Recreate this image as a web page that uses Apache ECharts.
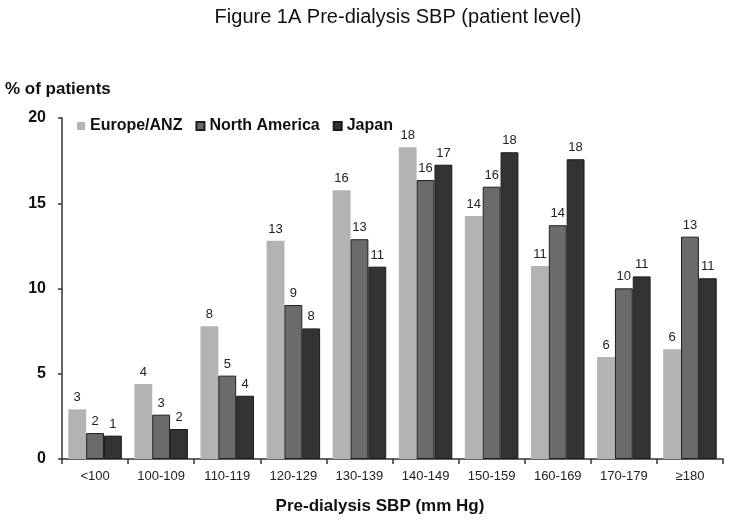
<!DOCTYPE html>
<html>
<head>
<meta charset="utf-8">
<script src="https://cdn.jsdelivr.net/npm/echarts@6/dist/echarts.min.js"></script>
<style>html,body{margin:0;padding:0;background:#fff}#c{width:729px;height:523px}</style>
</head>
<body>
<div id="c"></div>
<script>
var categories = ['<100','100-109','110-119','120-129','130-139','140-149','150-159','160-169','170-179','\u2265180'];
var europeANZ = [2.91, 4.40, 7.78, 12.80, 15.76, 18.28, 14.25, 11.32, 5.98, 6.43];
var northAmerica = [1.52, 2.60, 4.89, 9.03, 12.89, 16.36, 15.97, 13.71, 10.01, 13.04];
var japan = [1.37, 1.76, 3.71, 7.66, 11.28, 17.26, 17.99, 17.58, 10.71, 10.60];
var yTicks = [0, 5, 10, 15, 20];

var FONT = '"Liberation Sans", Arial, sans-serif';
var chart = echarts.init(document.getElementById('c'), null, {renderer: 'canvas'});

function mk(name, data, color, border) {
  return {
    name: name, type: 'bar', data: data,
    barGap: '0%', barCategoryGap: '19%',
    itemStyle: {color: color, borderColor: border || color, borderWidth: border ? 1 : 0},
    label: {show: true, position: 'top', distance: 5, fontFamily: FONT, fontSize: 13, color: '#222',
      formatter: function (p) { return Math.round(p.value); }},
    emphasis: {disabled: true}
  };
}

chart.setOption({
  animation: false,
  backgroundColor: '#fff',
  textStyle: {fontFamily: FONT},
  grid: {left: 62, right: 6, top: 118, bottom: 64, containLabel: false},
  legend: {
    left: 72, top: 113, itemWidth: 8, itemHeight: 8, itemGap: 13,
    icon: 'rect',
    textStyle: {fontFamily: FONT, fontSize: 16, fontWeight: 'bold', color: '#111'},
    data: ['Europe/ANZ', 'North America', 'Japan']
  },
  graphic: [
    {type: 'text', style: {text: 'Figure 1A Pre-dialysis SBP (patient level)', x: 398, y: 17, textAlign: 'center', textVerticalAlign: 'middle', font: '20px ' + FONT, fill: '#111'}},
    {type: 'text', style: {text: '% of patients', x: 5, y: 89, textAlign: 'left', textVerticalAlign: 'middle', font: 'bold 17px ' + FONT, fill: '#111'}},
    {type: 'text', style: {text: 'Pre-dialysis SBP (mm Hg)', x: 380, y: 506, textAlign: 'center', textVerticalAlign: 'middle', font: 'bold 17px ' + FONT, fill: '#111'}}
  ],
  xAxis: {
    type: 'category', data: categories,
    axisLine: {lineStyle: {color: '#333', width: 1.5}},
    axisTick: {show: true, alignWithLabel: false, length: 5, lineStyle: {color: '#333', width: 1.5}},
    axisLabel: {fontFamily: FONT, fontSize: 13, color: '#222', margin: 11, interval: 0}
  },
  yAxis: {
    type: 'value', min: 0, max: 20, interval: 5,
    axisLine: {show: true, lineStyle: {color: '#333', width: 1.5}},
    axisTick: {show: true, length: 4, lineStyle: {color: '#333', width: 1.5}},
    splitLine: {show: false},
    axisLabel: {fontFamily: FONT, fontSize: 16, fontWeight: 'bold', color: '#111', margin: 16,
      formatter: function (v) { return yTicks.indexOf(v) >= 0 ? String(v) : ''; }}
  },
  series: [
    mk('Europe/ANZ', europeANZ, '#b3b3b3', null),
    mk('North America', northAmerica, '#6b6b6b', '#1e1e1e'),
    mk('Japan', japan, '#333333', '#1a1a1a')
  ]
});
</script>
</body>
</html>
